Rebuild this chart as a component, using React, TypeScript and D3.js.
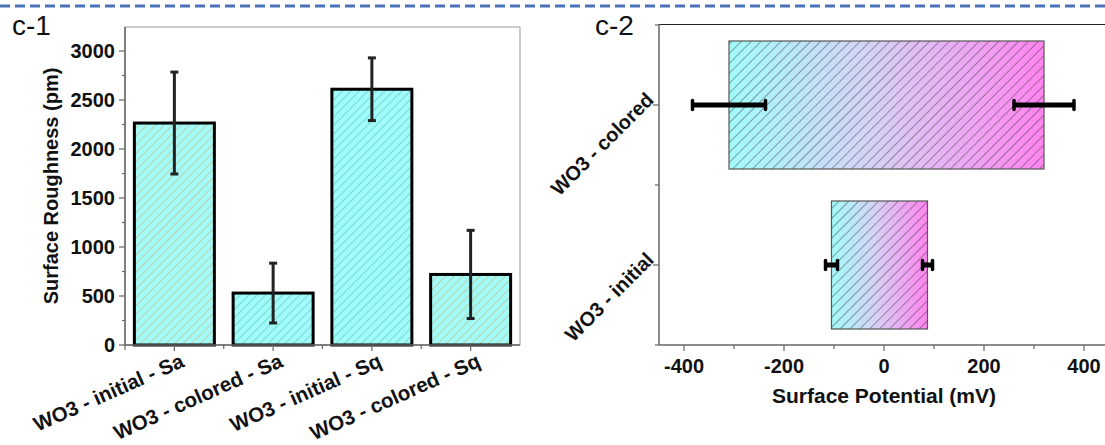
import * as d3 from "d3";

// c-1 data
const roughCats = ["WO3 - initial - Sa", "WO3 - colored - Sa", "WO3 - initial - Sq", "WO3 - colored - Sq"];
const roughVals = [2265, 530, 2610, 720];
const roughErr = [520, 305, 320, 450];
const roughHatch = ["#c8b27a", "#4fc3cf", "#4fc3cf", "#c8b27a"];
const roughTicks = [0, 500, 1000, 1500, 2000, 2500, 3000];

// c-2 data
const potCats = ["WO3 - colored", "WO3 - initial"];
const potLow = [-310, -105];
const potHigh = [320, 87];
const potLowErr = [73, 12];
const potHighErr = [60, 10];
const potTicks = [-400, -200, 0, 200, 400];

const FONT = "Arial, 'Liberation Sans', sans-serif";

export default function App() {
  const W = 1105, H = 445;

  // left panel scales
  const x1 = d3.scaleBand().domain(roughCats).range([125, 520]).paddingInner(0.19).paddingOuter(0.095);
  const y1 = d3.scaleLinear().domain([0, 3245]).range([345, 27]);
  const y1Minor = d3.range(250, 3250, 500);
  const bandEdges = roughCats.slice(1).map((c, i) => (x1(c)! + x1(roughCats[i])! + x1.bandwidth()) / 2);

  // right panel scales
  const x2 = d3.scaleLinear().domain([-450, 450]).range([659, 1109]);
  const y2 = d3.scaleBand().domain(potCats).range([25, 345]).paddingInner(0.2).paddingOuter(0.1);
  const x2Minor = [-300, -100, 100, 300];
  const y2Step = y2.step();

  const tickCol = "#666";

  return (
    <svg width={W} height={H} style={{ position: "absolute", left: 0, top: 0 }}>
      <defs>
        {roughHatch.map((c, i) => (
          <pattern key={i} id={`h1-${i}`} patternUnits="userSpaceOnUse" width={6} height={6} patternTransform="rotate(45)">
            <rect width={6} height={6} fill="#a3fbf8" />
            <line x1={0} y1={0} x2={0} y2={6} stroke={c} strokeWidth={1.2} />
          </pattern>
        ))}
        <linearGradient id="grad" x1="0" x2="1" y1="0" y2="0">
          <stop offset="0%" stopColor="#a2fbfb" />
          <stop offset="45%" stopColor="#d6d2f6" />
          <stop offset="100%" stopColor="#ff84f0" />
        </linearGradient>
        <pattern id="h2" patternUnits="userSpaceOnUse" width={7} height={7} patternTransform="rotate(45)">
          <line x1={0} y1={0} x2={0} y2={7} stroke="#333" strokeWidth={0.9} />
        </pattern>
      </defs>

      <rect width={W} height={H} fill="#fff" />
      <line x1={0} x2={W} y1={6} y2={6} stroke="#4a72b8" strokeWidth={3} strokeDasharray="10 5" />

      {/* c-1 */}
      <text x={12} y={35} fontFamily={FONT} fontSize={28} fill="#111">c-1</text>
      <rect x={125} y={27} width={395} height={318} fill="none" stroke="#999" strokeWidth={1} />
      {roughVals.map((v, i) => {
        const bx = x1(roughCats[i])!;
        const cx = bx + x1.bandwidth() / 2;
        return (
          <g key={i}>
            <rect x={bx} y={y1(v)} width={x1.bandwidth()} height={y1(0) - y1(v)} fill={`url(#h1-${i})`} stroke="#000" strokeWidth={3} />
            <line x1={cx} x2={cx} y1={y1(v + roughErr[i])} y2={y1(v - roughErr[i])} stroke="#222" strokeWidth={3} />
            <line x1={cx - 4} x2={cx + 4} y1={y1(v + roughErr[i])} y2={y1(v + roughErr[i])} stroke="#222" strokeWidth={3} />
            <line x1={cx - 4} x2={cx + 4} y1={y1(v - roughErr[i])} y2={y1(v - roughErr[i])} stroke="#222" strokeWidth={3} />
          </g>
        );
      })}
      <line x1={125} x2={125} y1={27} y2={345} stroke={tickCol} strokeWidth={1.5} />
      <line x1={125} x2={520} y1={345} y2={345} stroke={tickCol} strokeWidth={1.5} />
      {roughTicks.map((t) => (
        <g key={t}>
          <line x1={119} x2={125} y1={y1(t)} y2={y1(t)} stroke={tickCol} strokeWidth={1.2} />
          <text x={115} y={y1(t)} dy="0.36em" textAnchor="end" fontFamily={FONT} fontWeight="bold" fontSize={20} fill="#111">{t}</text>
        </g>
      ))}
      {y1Minor.map((t) => (
        <line key={t} x1={122} x2={125} y1={y1(t)} y2={y1(t)} stroke={tickCol} strokeWidth={1.2} />
      ))}
      <line x1={125} x2={125} y1={345} y2={350} stroke={tickCol} strokeWidth={1.2} />
      {bandEdges.map((e, i) => (
        <line key={i} x1={e} x2={e} y1={345} y2={349} stroke={tickCol} strokeWidth={1.2} />
      ))}
      {roughCats.map((c) => {
        const cx = x1(c)! + x1.bandwidth() / 2;
        return (
          <g key={c}>
            <line x1={cx} x2={cx} y1={345} y2={351} stroke={tickCol} strokeWidth={1.2} />
            <text transform={`translate(${cx + 11},${366}) rotate(-24)`} textAnchor="end" fontFamily={FONT} fontWeight="bold" fontSize={20.5} fill="#111">{c}</text>
          </g>
        );
      })}
      <text transform="translate(58,186) rotate(-90)" textAnchor="middle" fontFamily={FONT} fontWeight="bold" fontSize={20} fill="#111">Surface Roughness (pm)</text>

      {/* c-2 */}
      <text x={595} y={35} fontFamily={FONT} fontSize={28} fill="#111">c-2</text>
      <line x1={659} x2={W} y1={24.5} y2={24.5} stroke="#222" strokeWidth={1} />
      {potCats.map((c, i) => {
        const by = y2(c)!;
        const cy = by + y2.bandwidth() / 2;
        const lx = x2(potLow[i]), rx = x2(potHigh[i]);
        const errs: [number, number][] = [
          [potLow[i] - potLowErr[i], potLow[i] + potLowErr[i]],
          [potHigh[i] - potHighErr[i], potHigh[i] + potHighErr[i]],
        ];
        return (
          <g key={c}>
            <rect x={lx} y={by} width={rx - lx} height={y2.bandwidth()} fill="url(#grad)" />
            <rect x={lx} y={by} width={rx - lx} height={y2.bandwidth()} fill="url(#h2)" stroke="#555" strokeWidth={1.2} />
            {errs.map(([a, b], k) => (
              <g key={k}>
                <line x1={x2(a)} x2={x2(b)} y1={cy} y2={cy} stroke="#000" strokeWidth={5} />
                <line x1={x2(a)} x2={x2(a)} y1={cy - 4.5} y2={cy + 4.5} stroke="#000" strokeWidth={3.5} strokeLinecap="round" />
                <line x1={x2(b)} x2={x2(b)} y1={cy - 4.5} y2={cy + 4.5} stroke="#000" strokeWidth={3.5} strokeLinecap="round" />
              </g>
            ))}
            <line x1={653} x2={659} y1={cy} y2={cy} stroke={tickCol} strokeWidth={1.2} />
            <text transform={`translate(${655},${cy - 4}) rotate(-45)`} textAnchor="end" fontFamily={FONT} fontWeight="bold" fontSize={20} fill="#111">{c}</text>
          </g>
        );
      })}
      {[0, 1, 2].map((k) => (
        <line key={k} x1={655} x2={659} y1={25 + k * y2Step} y2={25 + k * y2Step} stroke={tickCol} strokeWidth={1.2} />
      ))}
      <line x1={659} x2={659} y1={24} y2={345} stroke={tickCol} strokeWidth={1.5} />
      <line x1={659} x2={W} y1={345} y2={345} stroke={tickCol} strokeWidth={1.5} />
      {potTicks.map((t) => (
        <g key={t}>
          <line x1={x2(t)} x2={x2(t)} y1={345} y2={351} stroke={tickCol} strokeWidth={1.2} />
          <text x={x2(t)} y={373} textAnchor="middle" fontFamily={FONT} fontWeight="bold" fontSize={20} fill="#111">{t}</text>
        </g>
      ))}
      {x2Minor.map((t) => (
        <line key={t} x1={x2(t)} x2={x2(t)} y1={345} y2={349} stroke={tickCol} strokeWidth={1.2} />
      ))}
      <text x={x2(0)} y={403} textAnchor="middle" fontFamily={FONT} fontWeight="bold" fontSize={21} fill="#111">Surface Potential (mV)</text>
    </svg>
  );
}
